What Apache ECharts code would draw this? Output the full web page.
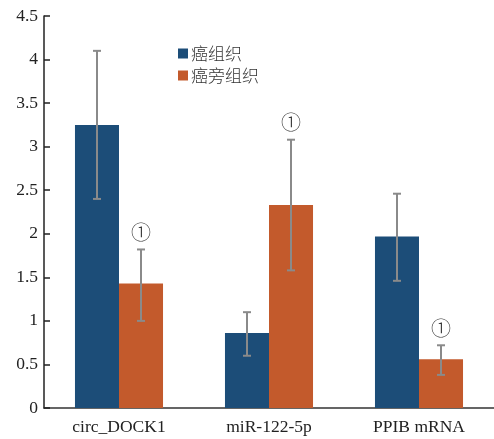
<!DOCTYPE html>
<html><head><meta charset="utf-8">
<script src="https://cdn.jsdelivr.net/npm/echarts@6/dist/echarts.min.js"></script>
<style>html,body{margin:0;padding:0;background:#fff}#c{width:494px;height:439px}</style>
</head><body><div id="c"></div>
<script>
const categories = ['circ_DOCK1', 'miR-122-5p', 'PPIB mRNA'];
const seriesNames = ['癌组织', '癌旁组织'];
const cancerValues = [3.25, 0.86, 1.97];
const cancerLow = [2.40, 0.60, 1.46];
const cancerHigh = [4.10, 1.10, 2.46];
const adjValues = [1.43, 2.33, 0.56];
const adjLow = [1.00, 1.58, 0.38];
const adjHigh = [1.82, 3.08, 0.72];
const adjMarks = ['①', '①', '①'];
const yTicks = ['0', '0.5', '1', '1.5', '2', '2.5', '3', '3.5', '4', '4.5'];

const CAT_GAP = 0.413;
function errData(low, high, side) {
  return categories.map((c, i) => [i, low[i], high[i], side]);
}
function renderErr(params, api) {
  const i = api.value(0), lo = api.value(1), hi = api.value(2), side = api.value(3);
  const band = api.size([1, 0])[0];
  const bw = band * (1 - CAT_GAP) / 2;
  const base = api.coord([i, lo]);
  const top = api.coord([i, hi]);
  const x = base[0] + (side < 0 ? -bw / 2 : bw / 2);
  const style = { stroke: '#8a8a8a', lineWidth: 2 };
  const ch = [
    { type: 'line', shape: { x1: x, y1: base[1], x2: x, y2: top[1] }, style },
    { type: 'line', shape: { x1: x - 4, y1: top[1], x2: x + 4, y2: top[1] }, style },
    { type: 'line', shape: { x1: x - 4, y1: base[1], x2: x + 4, y2: base[1] }, style }
  ];
  if (side > 0) {
    ch.push({ type: 'text', style: { text: adjMarks[i], x: x, y: top[1] - 17, align: 'center', verticalAlign: 'middle',
      font: '300 20px "Noto Sans CJK SC"', fill: '#333' } });
  }
  return { type: 'group', children: ch };
}

const chart = echarts.init(document.getElementById('c'));
chart.setOption({
  animation: false,
  grid: { left: 44, right: 0, top: 16, bottom: 31 },
  legend: {
    orient: 'vertical', left: 173, top: 40, itemWidth: 10, itemHeight: 10, itemGap: 5,
    icon: 'rect',
    textStyle: { fontFamily: '"Noto Sans CJK SC"', fontWeight: 300, fontSize: 17, color: '#333', padding: [0, 0, 0, -2] },
    data: seriesNames
  },
  xAxis: {
    type: 'category', data: categories,
    axisLine: { lineStyle: { color: '#333', width: 1.5 } },
    axisTick: { show: false },
    axisLabel: { fontFamily: 'Liberation Serif', fontSize: 17.5, color: '#222', margin: 10 }
  },
  yAxis: {
    type: 'value', min: 0, max: 4.5, interval: 0.5,
    axisLine: { show: true, lineStyle: { color: '#222', width: 1.5 } },
    axisTick: { show: true, inside: true, length: 6, lineStyle: { color: '#222', width: 1.5 } },
    splitLine: { show: false },
    axisLabel: { fontFamily: 'Liberation Serif', fontSize: 17.5, color: '#222', margin: 6,
      formatter: (v, idx) => yTicks[idx] }
  },
  series: [
    { name: seriesNames[0], type: 'bar', data: cancerValues, barGap: '0%', barCategoryGap: (CAT_GAP * 100) + '%',
      itemStyle: { color: '#1c4d78' } },
    { name: seriesNames[1], type: 'bar', data: adjValues, itemStyle: { color: '#c35a2c' } },
    { type: 'custom', renderItem: renderErr, data: errData(cancerLow, cancerHigh, -1), z: 5, silent: true },
    { type: 'custom', renderItem: renderErr, data: errData(adjLow, adjHigh, 1), z: 5, silent: true }
  ]
});
</script></body></html>
